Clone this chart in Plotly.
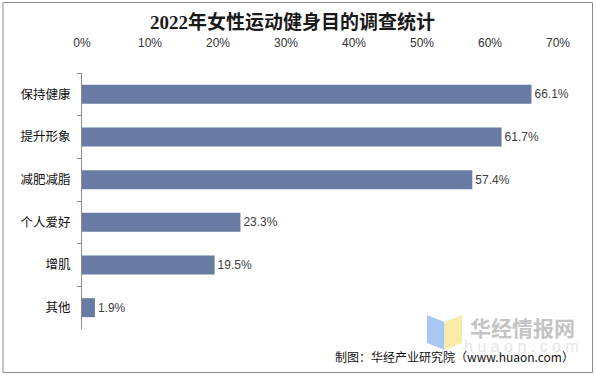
import plotly.graph_objects as go

categories = ["保持健康", "提升形象", "减肥减脂", "个人爱好", "增肌", "其他"]
values = [66.1, 61.7, 57.4, 23.3, 19.5, 1.9]
tick_vals = [0, 10, 20, 30, 40, 50, 60, 70]
tick_text = ["0%", "10%", "20%", "30%", "40%", "50%", "60%", "70%"]
title_text = "2022年女性运动健身目的调查统计"
source_text = "制图：华经产业研究院（www.huaon.com）"

W_IMG, H_IMG = 596, 376
L, T, R, B = 82, 73, 38, 47
PW = W_IMG - L - R
PH = H_IMG - T - B

def px(x):
    return (x - L) / PW

def py(y):
    return 1 - (y - T) / PH

bar_color = "#687CA3"
sans = "Liberation Sans, Arial, Noto Sans CJK SC, sans-serif"
cjk = "Noto Sans CJK SC, sans-serif"

fig = go.Figure()
fig.add_trace(go.Bar(
    x=values,
    y=categories,
    orientation="h",
    marker=dict(color=bar_color, line=dict(width=0)),
    width=0.445,
    text=[f"{v:.1f}%" for v in values],
    textposition="outside",
    textfont=dict(family=sans, size=12, color="#404040"),
    cliponaxis=False,
    hoverinfo="skip",
))

shapes = [
    dict(type="rect", xref="paper", yref="paper",
         x0=px(3), x1=px(592.5), y0=py(2.5), y1=py(372.5),
         line=dict(color="#8C8C8C", width=1), fillcolor="rgba(0,0,0,0)", layer="below"),
    dict(type="path", xref="paper", yref="paper",
         path=f"M {px(427)},{py(315)} L {px(444.5)},{py(322)} L {px(444.5)},{py(350)} L {px(427)},{py(343)} Z",
         fillcolor="#A9C8F4", line=dict(width=0), layer="below"),
    dict(type="path", xref="paper", yref="paper",
         path=f"M {px(444.5)},{py(322)} L {px(462)},{py(315)} L {px(462)},{py(343)} L {px(444.5)},{py(350)} Z",
         fillcolor="#FBEBA8", line=dict(width=0), layer="below"),
]

annotations = [
    dict(text="华经情报网", xref="paper", yref="paper", x=px(522), y=py(327),
         showarrow=False, xanchor="center", yanchor="middle",
         font=dict(family=cjk, size=21, color="#C4C4C4", weight="bold")),
    dict(text="h u a o n . c o m", xref="paper", yref="paper", x=px(521), y=py(346),
         showarrow=False, xanchor="center", yanchor="middle",
         font=dict(family=sans, size=16, color="#E6E6E6")),
    dict(text=title_text, xref="paper", yref="paper", x=px(292), y=py(22),
         showarrow=False, xanchor="center", yanchor="middle",
         font=dict(family="Liberation Serif, Noto Sans CJK SC, serif", size=19, color="#1a1a1a", weight="bold")),
    dict(text=source_text, xref="paper", yref="paper", x=px(576), y=py(356),
         showarrow=False, xanchor="right", yanchor="middle",
         font=dict(family=cjk, size=12, color="#111111")),
]

fig.update_layout(
    width=W_IMG, height=H_IMG,
    margin=dict(l=L, r=R, t=T, b=B, pad=0),
    paper_bgcolor="white", plot_bgcolor="white",
    showlegend=False,
    shapes=shapes,
    annotations=annotations,
    bargap=0.555,
    xaxis=dict(
        side="top", range=[0, 70], tickmode="array", tickvals=tick_vals, ticktext=tick_text,
        showgrid=False, zeroline=False, showline=False, ticks="",
        tickfont=dict(family=sans, size=12, color="#333333"),
        ticklabelstandoff=23,
        fixedrange=True,
    ),
    yaxis=dict(
        categoryorder="array", categoryarray=categories, autorange="reversed",
        showgrid=False, zeroline=False,
        showline=True, linecolor="#8C8C8C", linewidth=1,
        ticks="outside", tickson="boundaries", ticklen=4, tickcolor="#8C8C8C",
        tickfont=dict(family=cjk, size=12.5, color="#111111"),
        ticklabelstandoff=8,
        fixedrange=True,
    ),
)

fig.write_html("out.html", config={"displayModeBar": False},
               post_script="document.body.style.margin='0px';document.body.style.padding='0px';")
